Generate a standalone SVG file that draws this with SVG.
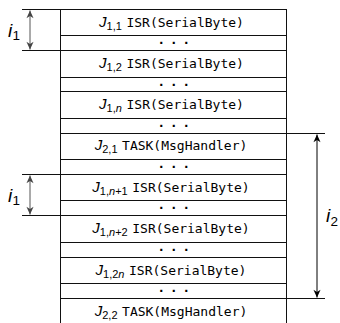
<svg xmlns="http://www.w3.org/2000/svg" width="340" height="323" viewBox="0 0 340 323">
<defs>
<style>
.ln{stroke:#111;stroke-width:1;fill:none}
.lbl{font-family:"Liberation Sans",Arial,sans-serif;font-size:15px;fill:#000}
.j{font-style:italic}
.sub{font-size:11px}
.mono{font-family:"DejaVu Sans Mono",monospace;font-size:13px}
.dots{font-family:"DejaVu Sans Mono",monospace;font-size:12.5px;font-weight:bold;letter-spacing:5px;fill:#000}
.it{font-family:"Liberation Sans",Arial,sans-serif;font-style:italic;font-size:19px;fill:#000}
.isub{font-family:"Liberation Sans",Arial,sans-serif;font-size:13.5px;fill:#000}
</style>
<marker id="ag" markerUnits="userSpaceOnUse" markerWidth="10" markerHeight="10" viewBox="-8 -4 9 8" refX="0" refY="0" orient="auto-start-reverse">
<path d="M0,0 L-7,-3.2 L-5,0 L-7,3.2 Z" fill="#444"/>
</marker>
<marker id="ab" markerUnits="userSpaceOnUse" markerWidth="10" markerHeight="10" viewBox="-8 -4 9 8" refX="0" refY="0" orient="auto-start-reverse">
<path d="M0,0 L-7,-3.2 L-5,0 L-7,3.2 Z" fill="#000"/>
</marker>
</defs>
<rect width="340" height="323" fill="#fff"/>

<g id="frame">
<path class="ln" d="M60.5,9.5V323M286.5,9.5V323"/>
<path class="ln" d="M22,9.5H287M60,35.5H287M60,50.5H287M60,77.5H287M60,91.5H287M60,118.5H287M60,133.5H325M60,159.5H287M22,174.5H287M60,200.5H287M22,215.5H287M60,242.5H287M60,257.5H287M60,283.5H287M60,298.5H325M22,50.5H60"/>
</g>

<g id="row1"><text class="lbl" x="171.5" y="26.5" text-anchor="middle"><tspan class="j">J</tspan><tspan class="sub" dy="3">1,1 </tspan><tspan class="mono" dy="-3" dx="1.5">ISR(SerialByte)</tspan></text></g>
<g id="dots1"><text class="dots" x="157.4" y="44">...</text></g>
<g id="row2"><text class="lbl" x="171.5" y="67.5" text-anchor="middle"><tspan class="j">J</tspan><tspan class="sub" dy="3">1,2 </tspan><tspan class="mono" dy="-3" dx="1.5">ISR(SerialByte)</tspan></text></g>
<g id="dots2"><text class="dots" x="157.4" y="86">...</text></g>
<g id="row3"><text class="lbl" x="171.5" y="108.5" text-anchor="middle"><tspan class="j">J</tspan><tspan class="sub" dy="3">1,<tspan class="j">n</tspan> </tspan><tspan class="mono" dy="-3" dx="1.5">ISR(SerialByte)</tspan></text></g>
<g id="dots3"><text class="dots" x="157.4" y="127">...</text></g>
<g id="row4"><text class="lbl" x="171" y="150" text-anchor="middle"><tspan class="j">J</tspan><tspan class="sub" dy="3">2,1 </tspan><tspan class="mono" dy="-3" dx="1.5">TASK(MsgHandler)</tspan></text></g>
<g id="dots4"><text class="dots" x="157.4" y="168">...</text></g>
<g id="row5"><text class="lbl" x="171" y="191.5" text-anchor="middle"><tspan class="j">J</tspan><tspan class="sub" dy="3">1,<tspan class="j">n</tspan>+1 </tspan><tspan class="mono" dy="-3" dx="1.5">ISR(SerialByte)</tspan></text></g>
<g id="dots5"><text class="dots" x="157.4" y="209">...</text></g>
<g id="row6"><text class="lbl" x="171" y="233" text-anchor="middle"><tspan class="j">J</tspan><tspan class="sub" dy="3">1,<tspan class="j">n</tspan>+2 </tspan><tspan class="mono" dy="-3" dx="1.5">ISR(SerialByte)</tspan></text></g>
<g id="dots6"><text class="dots" x="157.4" y="251">...</text></g>
<g id="row7"><text class="lbl" x="171" y="274.5" text-anchor="middle"><tspan class="j">J</tspan><tspan class="sub" dy="3">1,2<tspan class="j">n</tspan> </tspan><tspan class="mono" dy="-3" dx="1.5">ISR(SerialByte)</tspan></text></g>
<g id="dots7"><text class="dots" x="157.4" y="292">...</text></g>
<g id="row8"><text class="lbl" x="171" y="315.5" text-anchor="middle"><tspan class="j">J</tspan><tspan class="sub" dy="3">2,2 </tspan><tspan class="mono" dy="-3" dx="1.5">TASK(MsgHandler)</tspan></text></g>

<g id="connectors">
<line x1="30" y1="10.5" x2="30" y2="49.5" stroke="#555" stroke-width="1" marker-start="url(#ag)" marker-end="url(#ag)"/>
<line x1="30" y1="175.5" x2="30" y2="214.5" stroke="#555" stroke-width="1" marker-start="url(#ag)" marker-end="url(#ag)"/>
<line x1="317" y1="134.5" x2="317" y2="297.5" stroke="#000" stroke-width="1" marker-start="url(#ab)" marker-end="url(#ab)"/>
</g>

<g id="label-i1a"><text class="it" x="8" y="36.5">i</text><text class="isub" x="12.5" y="40">1</text></g>
<g id="label-i1b"><text class="it" x="8" y="201.5">i</text><text class="isub" x="12.5" y="205">1</text></g>
<g id="label-i2"><text class="it" x="326" y="221.5">i</text><text class="isub" x="330.5" y="225.5">2</text></g>
</svg>
